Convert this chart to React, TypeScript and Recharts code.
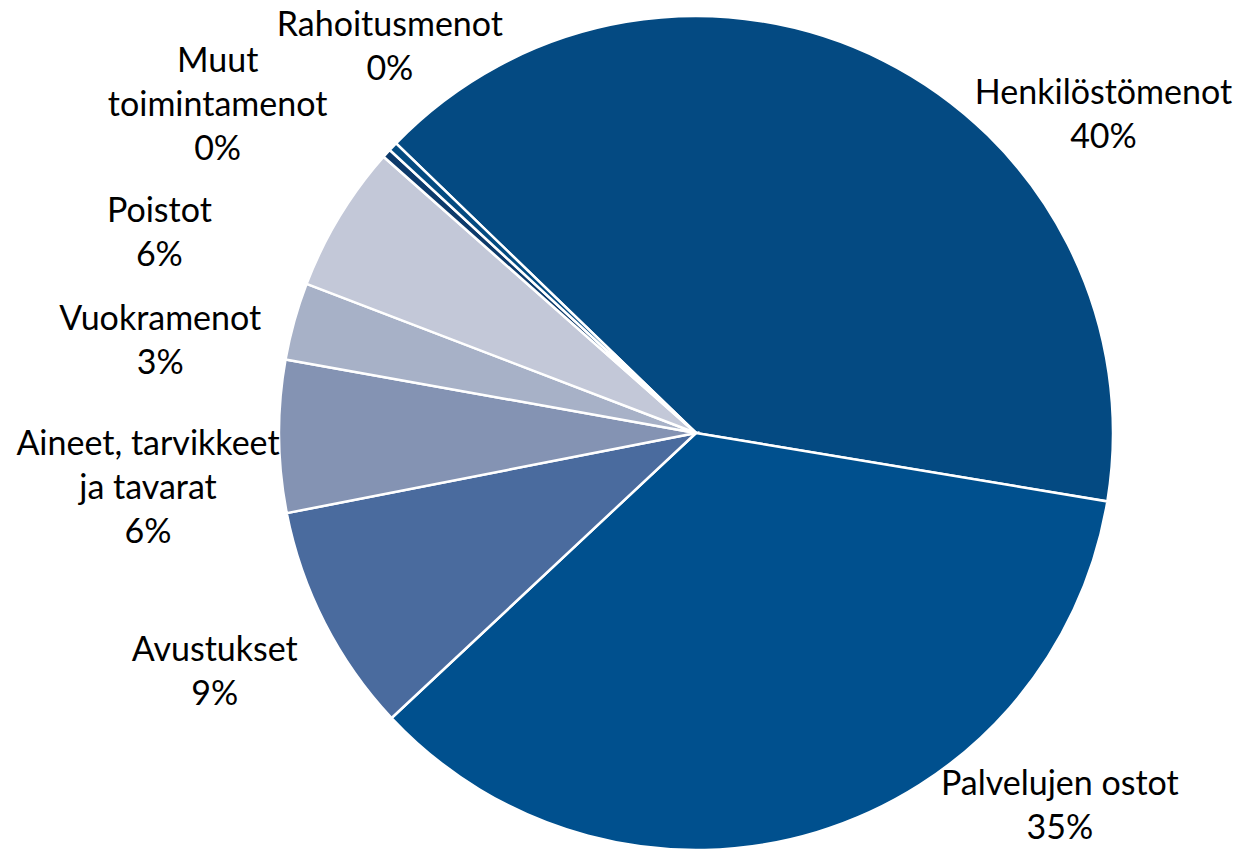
import { Cell, Pie, PieChart } from 'recharts';

// Menot 2023, osuus kokonaismenoista (%)
const categories = [
  'Henkilöstömenot',
  'Palvelujen ostot',
  'Avustukset',
  'Aineet, tarvikkeet ja tavarat',
  'Vuokramenot',
  'Poistot',
  'Muut toimintamenot',
  'Rahoitusmenot',
];
const shares = [40.4, 35.4, 8.9, 5.9, 3.0, 5.7, 0.35, 0.35];

// label text split into lines, as in the original chart
const labelLines = [
  ['Henkilöstömenot'],
  ['Palvelujen ostot'],
  ['Avustukset'],
  ['Aineet, tarvikkeet', 'ja tavarat'],
  ['Vuokramenot'],
  ['Poistot'],
  ['Muut', 'toimintamenot'],
  ['Rahoitusmenot'],
];

const COLORS = ['#044a82', '#00508e', '#4a6b9e', '#8493b3', '#a7b1c7', '#c3c8d8', '#0d3a6a', '#034a80'];

// where each label sits relative to the arc midpoint (first baseline, centred)
const LABEL_OFFSETS: [number, number][] = [
  [220, 43],
  [243, -37],
  [-110, 38],
  [-131, 19],
  [-134, 9],
  [-180, 5],
  [-169, -81],
  [-3, -111],
];

const FONT = 'Lato, "Liberation Sans", sans-serif';
const FONT_SIZE = 34;
const LINE_H = 44;

const data = categories.map((name, i) => ({ name, value: shares[i] }));

const RAD = Math.PI / 180;

function renderLabel(props: any) {
  const { cx, cy, midAngle, outerRadius, percent, index } = props;
  const ax = cx + outerRadius * Math.cos(-midAngle * RAD);
  const ay = cy + outerRadius * Math.sin(-midAngle * RAD);
  const [dx, dy] = LABEL_OFFSETS[index];
  const x = ax + dx;
  const y = ay + dy;
  const lines = [...labelLines[index], `${Math.round(percent * 100)}%`];
  return (
    <text
      key={`lbl-${index}`}
      x={x}
      y={y}
      textAnchor="middle"
      fill="#000"
      fontFamily={FONT}
      fontSize={FONT_SIZE}
    >
      {lines.map((l, j) => (
        <tspan key={j} x={x} y={y + j * LINE_H}>
          {l}
        </tspan>
      ))}
    </text>
  );
}

export default function App() {
  return (
    <div style={{ position: 'absolute', left: 0, top: 0, width: 1239, height: 849, background: '#fff' }}>
      <PieChart width={1239} height={849} margin={{ top: 0, right: 0, bottom: 0, left: 0 }}>
        <Pie
          data={data}
          dataKey="value"
          nameKey="name"
          cx={696}
          cy={433}
          outerRadius={417}
          startAngle={136}
          endAngle={-224}
          stroke="#fff"
          strokeWidth={2.5}
          label={renderLabel}
          labelLine={false}
          isAnimationActive={false}
        >
          {data.map((d, i) => (
            <Cell key={d.name} fill={COLORS[i]} />
          ))}
        </Pie>
      </PieChart>
    </div>
  );
}
